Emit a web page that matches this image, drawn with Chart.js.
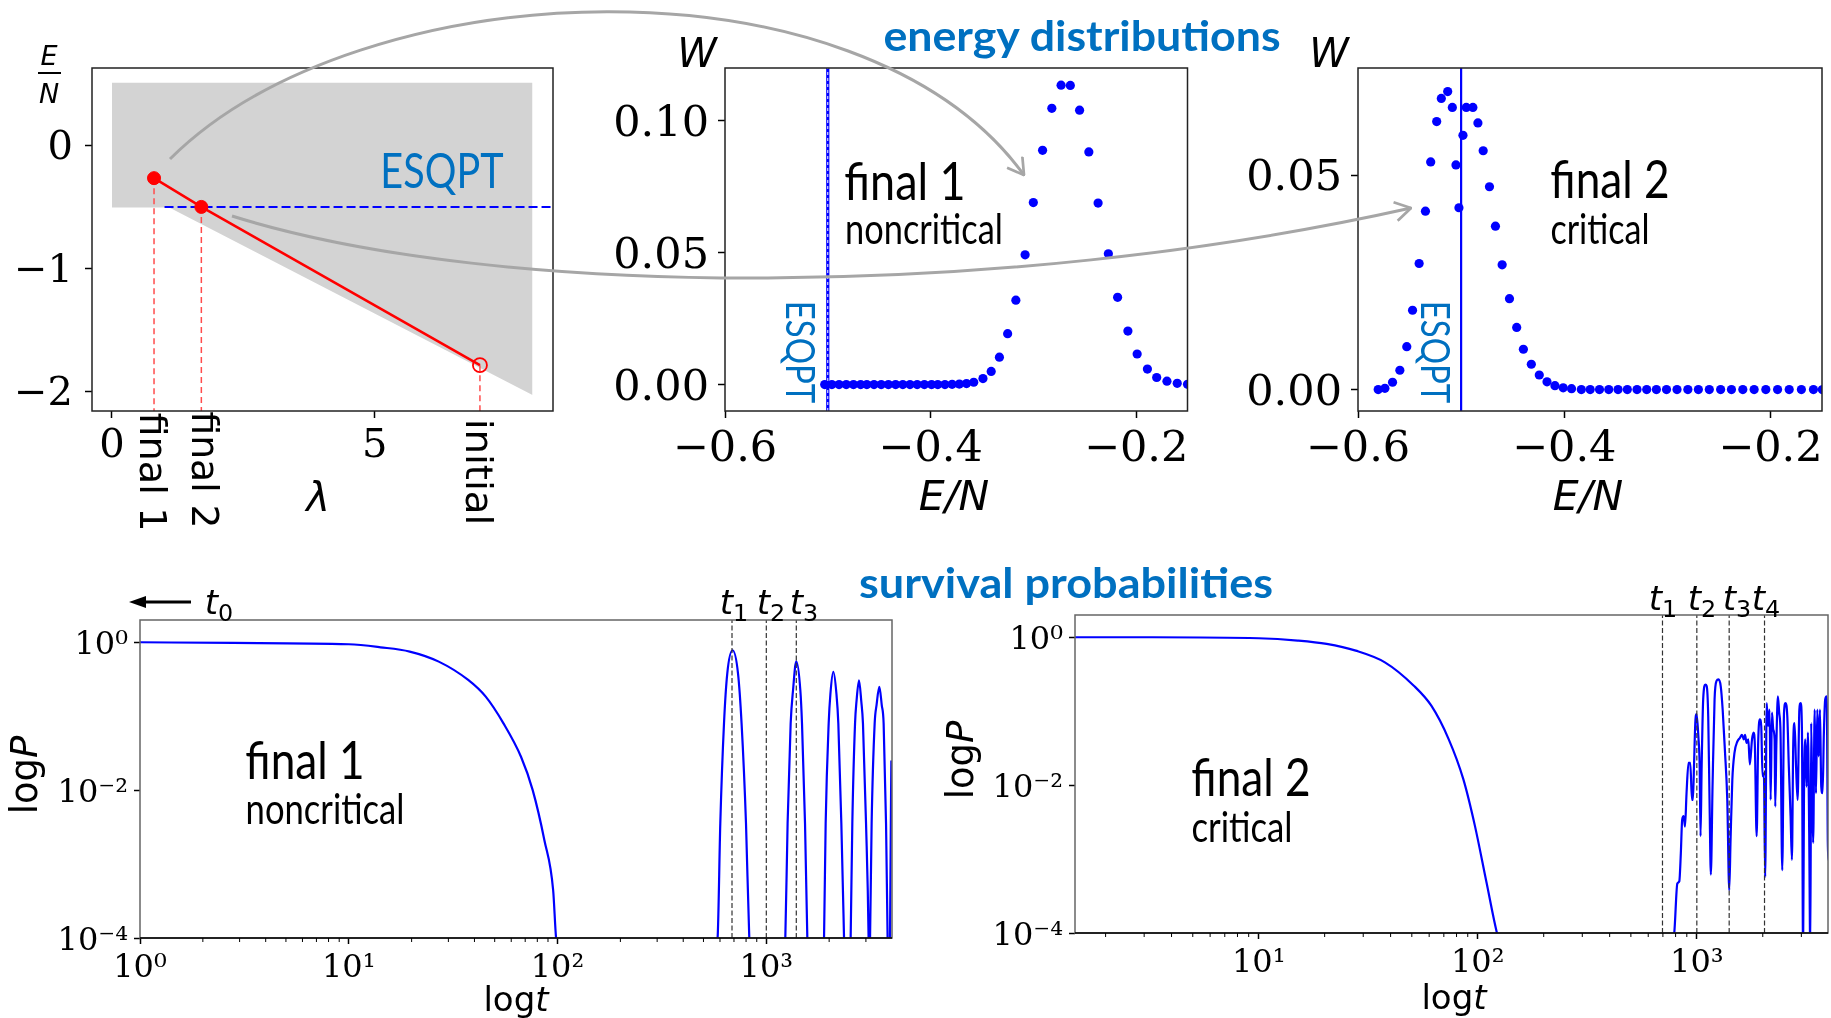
<!DOCTYPE html>
<html>
<head>
<meta charset="utf-8">
<script src="https://cdn.jsdelivr.net/npm/chart.js@4.4.1/dist/chart.umd.min.js"></script>
<style>
  body { margin: 0; background: #fff; }
  #page { position: relative; width: 1831px; height: 1018px; overflow: hidden; background: #fff; }
  #page canvas { position: absolute; }
  .txt { position: absolute; white-space: nowrap; line-height: 1; color: #000; }
  .cal { font-family: Lato, "Open Sans", sans-serif; }
  .mpl { font-family: "DejaVu Sans", sans-serif; }
  .bold { font-weight: 700; }
  .blue { color: #0070c0; }
  .it { font-style: italic; }
  #arrows { position: absolute; left: 0; top: 0; }
</style>
</head>
<body>
<div id="page">
  <canvas id="c1" width="580" height="470" style="left:0px;top:40px"></canvas>
  <canvas id="c2" width="600" height="470" style="left:600px;top:40px"></canvas>
  <canvas id="c3" width="601" height="470" style="left:1230px;top:40px"></canvas>
  <canvas id="c4" width="870" height="418" style="left:40px;top:600px"></canvas>
  <canvas id="c5" width="856" height="422" style="left:975px;top:596px"></canvas>
  <svg id="arrows" width="1831" height="1018">
    <defs>
      <marker id="head" viewBox="0 0 20 20" refX="19" refY="10" markerWidth="7" markerHeight="7" orient="auto" markerUnits="strokeWidth">
        <path d="M4,1 L19,10 L4,19" fill="none" stroke="#a6a6a6" stroke-width="2.6"/>
      </marker>
    </defs>
    <path d="M170,159 C360,-30 860,-50 1024,175" fill="none" stroke="#a6a6a6" stroke-width="3" marker-end="url(#head)"/>
    <path d="M232,216 C500,300 1000,300 1411,208" fill="none" stroke="#a6a6a6" stroke-width="3" marker-end="url(#head)"/>
    <line x1="191" y1="602" x2="140" y2="602" stroke="#000" stroke-width="3"/>
    <polygon points="129,602 146,596 146,608" fill="#000"/>
  </svg>
</div>
<script>
// ---- spectrum sketch (lambda vs E/N) ----
const lamTicks = [0, 5];
const lamTickLabels = ['0', '5'];
const enTicks = [-2, -1, 0];
const enTickLabels = ['−2', '−1', '0'];
const regionLam = [0, 1.09, 8.0];          // lower edge of the grey band
const regionE = [-0.505, -0.505, -2.03];
const regionTop = 0.51;
const quenchLam = [0.8, 1.7, 7.0];         // final 1, final 2, initial
const quenchE = [-0.266, -0.50, -1.787];
const esqptE = -0.5;
const esqptLam = [1.0, 8.39];

// ---- energy distributions ----
const eTicks = [-0.6, -0.4, -0.2];
const eTickLabels = ['−0.6', '−0.4', '−0.2'];
const wTicks1 = [0, 0.05, 0.10];
const wTickLabels1 = ['0.00', '0.05', '0.10'];
const wTicks2 = [0, 0.05];
const wTickLabels2 = ['0.00', '0.05'];
const e1 = [-0.503, -0.496, -0.489, -0.482, -0.475, -0.468, -0.462, -0.455, -0.448, -0.441, -0.434,
  -0.427, -0.420, -0.413, -0.406, -0.399, -0.393, -0.386, -0.379, -0.372, -0.365, -0.358, -0.349,
  -0.341, -0.333, -0.325, -0.317, -0.308, -0.300, -0.291, -0.282, -0.273, -0.264, -0.255, -0.246,
  -0.237, -0.227, -0.218, -0.208, -0.199, -0.189, -0.180, -0.170, -0.160, -0.150];
const w1 = [0, 0, 0, 0, 0, 0, 0, 0, 0, 0, 0, 0, 0, 0, 0, 0, 0, 0, 0.0001, 0.0002, 0.0004, 0.0009, 0.0023,
  0.0050, 0.0104, 0.0193, 0.0320, 0.0492, 0.0690, 0.0888, 0.1047, 0.1135, 0.1134, 0.1040, 0.0882,
  0.0688, 0.0496, 0.0331, 0.0203, 0.0116, 0.0059, 0.0027, 0.0013, 0.0005, 0.0001];
const e2 = [-0.5804, -0.5739, -0.5665, -0.5594, -0.5527, -0.5471, -0.5407, -0.5346, -0.5295, -0.5237,
  -0.5192, -0.5130, -0.5085, -0.5050, -0.5021, -0.4982, -0.4950, -0.4886, -0.4837, -0.4786, -0.4725,
  -0.4667, -0.4602, -0.4531, -0.4461, -0.4396, -0.4319, -0.4242, -0.4167, -0.4090, -0.4010, -0.3929,
  -0.3834, -0.3748, -0.3658, -0.3568, -0.3478, -0.3388, -0.3294, -0.3200, -0.3106, -0.3008, -0.2906,
  -0.2801, -0.2699, -0.2593, -0.2483, -0.2378, -0.2268, -0.2158, -0.2045, -0.1931, -0.1818, -0.1700,
  -0.1583, -0.1497];
const w2 = [0, 0.0003, 0.0017, 0.0045, 0.0100, 0.0185, 0.0294, 0.0416, 0.0531, 0.0625, 0.0679, 0.0695,
  0.0658, 0.0524, 0.0424, 0.0593, 0.0658, 0.0658, 0.0622, 0.0557, 0.0473, 0.0381, 0.0291, 0.0212,
  0.0145, 0.0094, 0.0059, 0.0034, 0.0018, 0.0009, 0.0004, 0.0002, 0, 0, 0, 0, 0, 0, 0, 0, 0, 0, 0, 0,
  0, 0, 0, 0, 0, 0, 0, 0, 0, 0, 0, 0];

// ---- survival probabilities, read as log10 t and log10 P ----
const pTicks = [1e-4, 1e-2, 1];
const pTickLabels = ['10⁻⁴', '10⁻²', '10⁰'];
const tTicks1 = [1, 10, 100, 1000];
const tTickLabels1 = ['10⁰', '10¹', '10²', '10³'];
const tTicks2 = [10, 100, 1000];
const tTickLabels2 = ['10¹', '10²', '10³'];
const f1LogT = [0, 0.447, 1.0, 1.152, 1.292, 1.431, 1.572, 1.656, 1.741, 1.825, 1.881, 1.937, 1.979, 1.993,
  2.4, 2.7667, 2.7796, 2.7973, 2.8131, 2.8385, 2.8644, 2.8816, 2.9027, 2.9185,
  3.0, 3.091, 3.102, 3.1166, 3.128, 3.1437, 3.163, 3.171, 3.1854, 3.1965,
  3.236, 3.2765, 3.2843, 3.2987, 3.307, 3.321, 3.336, 3.345, 3.3594, 3.3723,
  3.388, 3.404, 3.412, 3.425, 3.432, 3.444, 3.455, 3.463, 3.4777, 3.490,
  3.4935, 3.497, 3.5045, 3.519, 3.528, 3.5414, 3.553, 3.562, 3.5735, 3.581, 3.5875, 3.599];
const f1LogP = [0, -0.009, -0.027, -0.068, -0.126, -0.262, -0.510, -0.736, -1.097, -1.549, -2.0, -2.677, -3.354, -4.0,
  -9, -4, -2.45, -1.10, -0.42, -0.108, -0.42, -1.10, -2.45, -4,
  -7, -4, -2.45, -1.10, -0.649, -0.257, -0.649, -1.10, -2.45, -4,
  -7, -4, -2.45, -1.10, -0.70, -0.401, -0.70, -1.10, -2.45, -4,
  -6, -4, -2.45, -1.10, -0.80, -0.514, -0.80, -1.10, -2.45, -4,
  -5, -4, -2.45, -1.10, -0.85, -0.604, -0.85, -1.10, -2.45, -4, -5, -1.6];
const f2LogT = [0.16, 0.515, 1.0, 1.178, 1.31, 1.443, 1.576, 1.708, 1.788, 1.867, 1.934, 1.987, 2.04, 2.0875, 2.5,
  2.897, 2.911, 2.920, 2.927, 2.933, 2.940, 2.946, 2.953, 2.962, 2.970, 2.978, 2.982, 2.987, 2.993, 2.999,
  3.007, 3.013, 3.017, 3.022, 3.029, 3.039, 3.045, 3.052, 3.058, 3.064, 3.072, 3.081, 3.090, 3.099, 3.109,
  3.118, 3.128, 3.139, 3.148, 3.154, 3.162, 3.172, 3.185, 3.197, 3.206, 3.214, 3.220, 3.227, 3.235, 3.242,
  3.252, 3.259, 3.265, 3.273, 3.280, 3.288, 3.294, 3.300, 3.306, 3.312, 3.319, 3.325, 3.332, 3.337, 3.343,
  3.349, 3.355, 3.358, 3.363, 3.370, 3.376, 3.382, 3.390, 3.398, 3.405, 3.413, 3.420, 3.428, 3.434, 3.440,
  3.446, 3.453, 3.460, 3.468, 3.474, 3.480, 3.485, 3.489, 3.495, 3.501, 3.507, 3.513, 3.518, 3.522, 3.527,
  3.531, 3.538, 3.544, 3.550, 3.556, 3.562, 3.568, 3.574, 3.580, 3.586, 3.593, 3.599, 3.605];
const f2LogP = [0, 0, -0.0135, -0.045, -0.090, -0.181, -0.339, -0.655, -0.926, -1.377, -1.919, -2.551, -3.318, -4.0, -8,
  -4.0, -3.33, -3.30, -2.92, -2.47, -2.42, -2.56, -2.11, -1.70, -1.70, -2.20, -2.20, -1.75, -1.16, -1.04,
  -1.34, -1.75, -2.69, -1.75, -0.84, -0.64, -0.66, -1.07, -2.20, -3.21, -1.97, -0.84, -0.59, -0.57, -0.66,
  -0.98, -1.52, -2.20, -3.42, -2.74, -1.93, -1.56, -1.41, -1.36, -1.32, -1.38, -1.32, -1.43, -1.38, -1.72,
  -1.38, -1.29, -1.47, -2.69, -1.43, -1.11, -1.20, -1.88, -1.84, -3.24, -0.89, -1.20, -0.98, -2.20, -1.02,
  -1.25, -1.38, -2.29, -1.47, -0.80, -1.02, -1.29, -3.15, -1.02, -0.89, -1.07, -1.75, -2.42, -3.01, -1.47,
  -1.16, -1.75, -2.20, -0.98, -0.89, -1.29, -4.3, -2.20, -1.38, -2.02, -1.29, -2.65, -4.3, -1.16, -2.20,
  -2.78, -0.98, -2.11, -0.98, -1.61, -0.98, -2.02, -2.11, -1.29, -0.84, -0.80, -3.01, -2.97];
const tMarks1 = [685, 1000, 1392];
const tMarks2 = [697, 1000, 1405, 2037];

const BLUE = '#0000ff';

function pts(xs, ys) {
  return xs.map((x, i) => ({ x: x, y: ys[i] }));
}

// frame box round the plot area + short minor ticks on log time axes
const framePlugin = {
  id: 'frame',
  afterDraw(chart, args, opts) {
    const { ctx, chartArea: a } = chart;
    ctx.save();
    ctx.lineWidth = 1.5;
    ctx.strokeStyle = opts.color || '#000';
    ctx.strokeRect(a.left, a.top, a.right - a.left, a.bottom - a.top);
    if (opts.bottomColor) {
      ctx.strokeStyle = opts.bottomColor;
      ctx.beginPath(); ctx.moveTo(a.left, a.bottom); ctx.lineTo(a.right, a.bottom); ctx.stroke();
    }
    if (opts.minor) {
      const sx = chart.scales.x;
      ctx.strokeStyle = '#000';
      ctx.lineWidth = 1;
      opts.minor.forEach(v => {
        if (v <= sx.min || v >= sx.max) return;
        const px = sx.getPixelForValue(v);
        ctx.beginPath(); ctx.moveTo(px, a.bottom); ctx.lineTo(px, a.bottom + 4); ctx.stroke();
      });
    }
    ctx.restore();
  }
};
Chart.register(framePlugin);

function axis(type, min, max, ticks, labels, o) {
  return {
    type: type, min: min, max: max,
    border: { display: false },
    grid: { drawOnChartArea: false, drawTicks: true, tickLength: o.tick, tickWidth: 1.5, tickColor: '#000' },
    ticks: {
      color: '#000', font: { family: 'DejaVu Serif', size: o.font }, padding: o.pad,
      labelOffset: o.shift || 0,
      autoSkip: false, maxRotation: 0, minRotation: 0,
      callback: (v, i) => labels[i]
    },
    afterBuildTicks: s => { s.ticks = ticks.map(v => ({ value: v })); },
    afterFit: s => {
      if (s.isHorizontal()) s.height = o.size; else s.width = o.size;
      s.paddingLeft = 0; s.paddingRight = 0; s.paddingTop = 0; s.paddingBottom = 0;
    }
  };
}

function opts(x, y, pad, frame) {
  return {
    responsive: false, animation: false, devicePixelRatio: 1,
    layout: { padding: pad },
    plugins: { legend: { display: false }, tooltip: { enabled: false }, frame: frame },
    elements: { point: { radius: 0 } },
    scales: { x: x, y: y }
  };
}

// panel 1: spectrum with quench path
const p1X = [-0.38, 8.39], p1Y = [-2.16, 0.63];
new Chart(document.getElementById('c1'), {
  type: 'line',
  data: {
    datasets: [
      { data: pts(quenchLam, quenchE), borderColor: '#ff0000', borderWidth: 2.5,
        pointRadius: [6.5, 6.5, 7], pointBackgroundColor: ['#ff0000', '#ff0000', 'rgba(0,0,0,0)'],
        pointBorderColor: '#ff0000', pointBorderWidth: [1, 1, 1.8], order: 1 },
      { data: [{ x: esqptLam[0], y: esqptE }, { x: esqptLam[1], y: esqptE }],
        borderColor: BLUE, borderWidth: 2, borderDash: [9, 4], order: 2 },
      ...quenchLam.map((l, i) => ({
        data: [{ x: l, y: quenchE[i] }, { x: l, y: p1Y[0] }],
        borderColor: '#ff4d4d', borderWidth: 1.5, borderDash: [6, 4], order: 3
      })),
      { data: pts(regionLam, regionE), borderColor: 'rgba(0,0,0,0)', borderWidth: 0,
        backgroundColor: '#d3d3d3', fill: { value: regionTop }, order: 5 }
    ]
  },
  options: opts(
    axis('linear', p1X[0], p1X[1], lamTicks, lamTickLabels, { tick: 7, font: 40, pad: 5, size: 99 }),
    axis('linear', p1Y[0], p1Y[1], enTicks, enTickLabels, { tick: 7, font: 40, pad: 12, size: 92, shift: 3.5 }),
    { top: 28, right: 27, left: 0, bottom: 0 }, { color: '#222' })
});

// panels 2 and 3: energy distributions
function energyChart(id, es, ws, yMin, yMax, wt, wl, ySize, padRight, dashedEsqpt) {
  const line = [{ x: esqptE, y: yMin }, { x: esqptE, y: yMax }];
  const sets = [
    { data: pts(es, ws), showLine: false, pointRadius: 4.6, pointBackgroundColor: BLUE,
      pointBorderColor: BLUE, pointBorderWidth: 0, order: 1 }
  ];
  if (dashedEsqpt) {
    sets.push({ data: line, borderColor: '#ffffff', borderWidth: 1, borderDash: [3, 3], order: 2 });
    sets.push({ data: line, borderColor: BLUE, borderWidth: 3.2, order: 3 });
  } else {
    sets.push({ data: line, borderColor: BLUE, borderWidth: 2.2, order: 2 });
  }
  new Chart(document.getElementById(id), {
    type: 'line',
    data: { datasets: sets },
    options: opts(
      axis('linear', -0.6, -0.15, eTicks, eTickLabels, { tick: 7, font: 43, pad: 6, size: 99 }),
      axis('linear', yMin, yMax, wt, wl, { tick: 7, font: 43, pad: 9, size: ySize, shift: 4 }),
      { top: 28, right: padRight, left: 0, bottom: 0 }, { color: '#222' })
  });
}
energyChart('c2', e1, w1, -0.010, 0.120, wTicks1, wTickLabels1, 125, 12.5, true);
energyChart('c3', e2, w2, -0.005, 0.075, wTicks2, wTickLabels2, 128, 9, false);

// panels 4 and 5: survival probabilities
function minorTicks(maxDecade) {
  const out = [];
  for (let d = 0; d <= maxDecade; d++) for (let k = 2; k <= 9; k++) out.push(k * Math.pow(10, d));
  return out;
}
function survivalChart(id, logT, logP, marks, tMin, tMax, tt, tl, xSize, pad) {
  const sets = marks.map(t => ({
    data: [{ x: t, y: 1e-4 }, { x: t, y: 2 }],
    borderColor: '#333', borderWidth: 1.2, borderDash: [5, 2.5], order: 1
  }));
  sets.push({
    data: pts(logT.map(v => Math.pow(10, v)), logP.map(v => Math.pow(10, v))),
    borderColor: BLUE, borderWidth: 2.2, cubicInterpolationMode: 'monotone', order: 2
  });
  new Chart(document.getElementById(id), {
    type: 'line',
    data: { datasets: sets },
    options: opts(
      axis('logarithmic', tMin, tMax, tt, tl, { tick: 6, font: 32, pad: 5, size: xSize }),
      axis('logarithmic', 1e-4, 2, pTicks, pTickLabels, { tick: 6, font: 32, pad: 6, size: 100, shift: 3.5 }),
      pad, { color: '#666', bottomColor: '#000', minor: minorTicks(3) })
  });
}
survivalChart('c4', f1LogT, f1LogP, tMarks1, 1, 4000, tTicks1, tTickLabels1, 80,
  { top: 20, right: 18, left: 0, bottom: 0 });
survivalChart('c5', f2LogT, f2LogP, tMarks2, 1.45, 3970, tTicks2, tTickLabels2, 85,
  { top: 19, right: 3, left: 0, bottom: 0 });

// ---- text annotations ----
const page = document.getElementById('page');
function addText(html, cx, cy, cls, size, rot, width) {
  const d = document.createElement('div');
  d.className = 'txt ' + cls;
  d.style.fontSize = size + 'px';
  d.innerHTML = html;
  d.style.left = cx + 'px';
  d.style.top = cy + 'px';
  page.appendChild(d);
  const sx = width ? width / d.offsetWidth : 1;
  d.style.transform = 'translate(-50%,-50%) rotate(' + rot + 'deg) scaleX(' + sx + ')';
}
const sub = s => '<span style="font-size:0.7em;position:relative;top:0.3em;font-style:normal">' + s + '</span>';
const tLabel = n => '<i>t</i>' + sub(n);

addText('energy distributions', 1082, 35, 'cal bold blue', 42, 0, 397);
addText('survival probabilities', 1066, 582, 'cal bold blue', 42, 0, 414);

// panel 1
addText('ESQPT', 442, 170, 'cal blue', 48, 0, 123);
addText('final 1', 153, 472, 'mpl', 38, 90, 119);
addText('final 2', 205, 470, 'mpl', 38, 90, 117);
addText('initial', 479, 472, 'mpl', 38, 90, 107);
addText('λ', 318, 497, 'mpl it', 40, 0, 0);
addText('E', 49, 55, 'mpl it', 27, 0, 0);
addText('N', 49, 93, 'mpl it', 27, 0, 0);
const bar = document.createElement('div');
bar.style.cssText = 'position:absolute;left:38px;top:72px;width:23px;height:2px;background:#000';
page.appendChild(bar);

// panel 2
addText('W', 697, 53, 'mpl it', 40, 0, 0);
addText('E/N', 954, 496, 'mpl it', 41, 0, 0);
addText('final 1', 905, 180, 'cal', 52, 0, 121);
addText('noncritical', 924, 228, 'cal', 42, 0, 158);
addText('ESQPT', 801, 352, 'cal blue', 40, 90, 102);

// panel 3
addText('W', 1329, 53, 'mpl it', 40, 0, 0);
addText('E/N', 1588, 496, 'mpl it', 41, 0, 0);
addText('final 2', 1610, 178, 'cal', 52, 0, 119);
addText('critical', 1600, 228, 'cal', 42, 0, 99);
addText('ESQPT', 1436, 352, 'cal blue', 40, 90, 102);

// panel 4
addText(tLabel('0'), 219, 602, 'mpl', 34, 0, 0);
addText(tLabel('1'), 734, 602, 'mpl', 34, 0, 0);
addText(tLabel('2'), 771, 602, 'mpl', 34, 0, 0);
addText(tLabel('3'), 804, 602, 'mpl', 34, 0, 0);
addText('log<i>P</i>', 24, 775, 'mpl', 37, -90, 0);
addText('log<i>t</i>', 516, 999, 'mpl', 34, 0, 0);
addText('final 1', 305, 759, 'cal', 52, 0, 119);
addText('noncritical', 325, 808, 'cal', 42, 0, 159);

// panel 5
addText(tLabel('1'), 1663, 598, 'mpl', 34, 0, 0);
addText(tLabel('2'), 1702, 598, 'mpl', 34, 0, 0);
addText(tLabel('3'), 1737, 598, 'mpl', 34, 0, 0);
addText(tLabel('4'), 1766, 598, 'mpl', 34, 0, 0);
addText('log<i>P</i>', 960, 760, 'mpl', 37, -90, 0);
addText('log<i>t</i>', 1454, 997, 'mpl', 34, 0, 0);
addText('final 2', 1251, 776, 'cal', 52, 0, 119);
addText('critical', 1242, 826, 'cal', 42, 0, 101);
</script>
</body>
</html>
